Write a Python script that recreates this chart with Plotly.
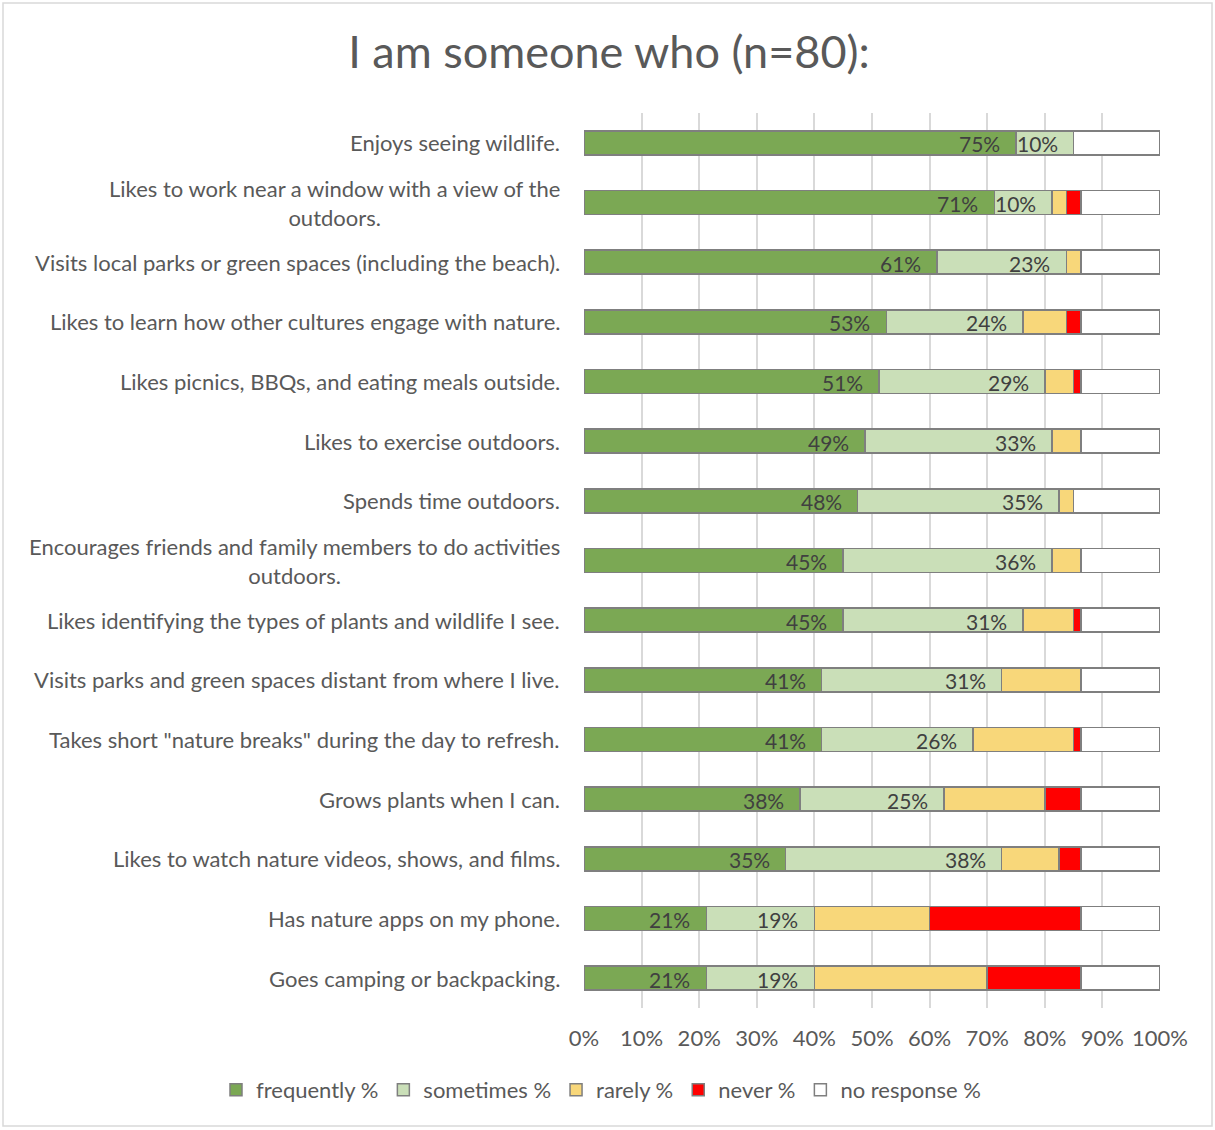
import math
import plotly.graph_objects as go

categories = [
    "Enjoys seeing wildlife.",
    "Likes to work near a window with a view of the<br>outdoors.",
    "Visits local parks or green spaces (including the beach).",
    "Likes to learn how other cultures engage with nature.",
    "Likes picnics, BBQs, and eating meals outside.",
    "Likes to exercise outdoors.",
    "Spends time outdoors.",
    "Encourages friends and family members to do activities<br>outdoors.",
    "Likes identifying the types of plants and wildlife I see.",
    "Visits parks and green spaces distant from where I live.",
    "Takes short \"nature breaks\" during the day to refresh.",
    "Grows plants when I can.",
    "Likes to watch nature videos, shows, and films.",
    "Has nature apps on my phone.",
    "Goes camping or backpacking.",
]

frequently = [75, 71.25, 61.25, 52.5, 51.25, 48.75, 47.5, 45, 45, 41.25, 41.25, 37.5, 35, 21.25, 21.25]
sometimes = [10, 10, 22.5, 23.75, 28.75, 32.5, 35, 36.25, 31.25, 31.25, 26.25, 25, 37.5, 18.75, 18.75]
rarely = [0, 2.5, 2.5, 7.5, 5, 5, 2.5, 5, 8.75, 13.75, 17.5, 17.5, 10, 20, 30]
never = [0, 2.5, 0, 2.5, 1.25, 0, 0, 0, 1.25, 0, 1.25, 6.25, 3.75, 26.25, 16.25]
no_response = [15, 13.75, 13.75, 13.75, 13.75, 13.75, 15, 13.75, 13.75, 13.75, 13.75, 13.75, 13.75, 13.75, 13.75]

series_names = ["frequently %", "sometimes %", "rarely %", "never %", "no response %"]
series_values = [frequently, sometimes, rarely, never, no_response]
series_colors = ["#7BA854", "#CADFB8", "#F8D77A", "#FF0000", "#FFFFFF"]
labelled = [True, True, False, False, False]

x_ticks = list(range(0, 101, 10))

FONT = "Lato"
TXT = "#595959"

fig = go.Figure()
base = [0.0] * len(categories)
for name, vals, col, lab in zip(series_names, series_values, series_colors, labelled):
    xv = [v if v else None for v in vals]
    fig.add_trace(go.Bar(
        name=name, y=categories, x=xv, orientation="h",
        marker=dict(color=col, line=dict(color="#7F7F7F", width=1.5)),
        hoverinfo="skip", textposition="none",
    ))
    if lab:
        # "inside end" data labels, anchored at the end of each segment
        for c, v, b in zip(categories, vals, base):
            fig.add_annotation(
                x=b + v, xref="x", y=c, yref="y", text=f"{math.floor(v + 0.5)}%",
                showarrow=False, xanchor="right", xshift=-14, yshift=-1,
                font=dict(family=FONT, size=21, color="#404040"),
            )
    base = [b + v for b, v in zip(base, vals)]

for c in categories:
    fig.add_annotation(
        x=0, xref="paper", y=c, yref="y", text=c, showarrow=False,
        xanchor="right", xshift=-22, align="center",
        font=dict(family=FONT, size=22, color=TXT),
    )

# chart border
L, R, T, B = 584, 1160, 113, 1008
W, H = R - L, B - T
fig.add_shape(type="rect", xref="paper", yref="paper",
              x0=(3 - L) / W, x1=(1212 - L) / W,
              y0=(B - 1126) / H, y1=(B - 3) / H,
              line=dict(color="#D9D9D9", width=1.5), layer="below")

fig.update_layout(
    width=1215, height=1130,
    margin=dict(l=L, r=1215 - R, t=T, b=1130 - B, autoexpand=False),
    barmode="stack", bargap=0.6,
    plot_bgcolor="white", paper_bgcolor="white",
    title=dict(text="I am someone who (n=80):", xref="container", x=609 / 1215,
               xanchor="center", yref="container", y=1 - 52 / 1130, yanchor="middle",
               font=dict(family=FONT, size=45, color=TXT)),
    showlegend=True,
    legend=dict(orientation="h", xref="paper", yref="paper",
                x=(216 - L) / W, xanchor="left", y=(B - 1090) / H, yanchor="middle",
                bgcolor="rgba(0,0,0,0)", itemwidth=30,
                font=dict(family=FONT, size=22, color=TXT), traceorder="normal"),
)

fig.update_xaxes(range=[0, 100], tickvals=x_ticks, ticktext=[f"{t}%" for t in x_ticks],
                 showgrid=True, gridcolor="#D9D9D9", gridwidth=1.5, zeroline=False,
                 showline=False, ticks="", ticklabelstandoff=15,
                 tickfont=dict(family=FONT, size=22, color=TXT), fixedrange=True)
fig.update_yaxes(categoryorder="array", categoryarray=categories, autorange="reversed",
                 showticklabels=False, showgrid=False, zeroline=False, showline=False,
                 fixedrange=True)

fig.write_html("out.html")
